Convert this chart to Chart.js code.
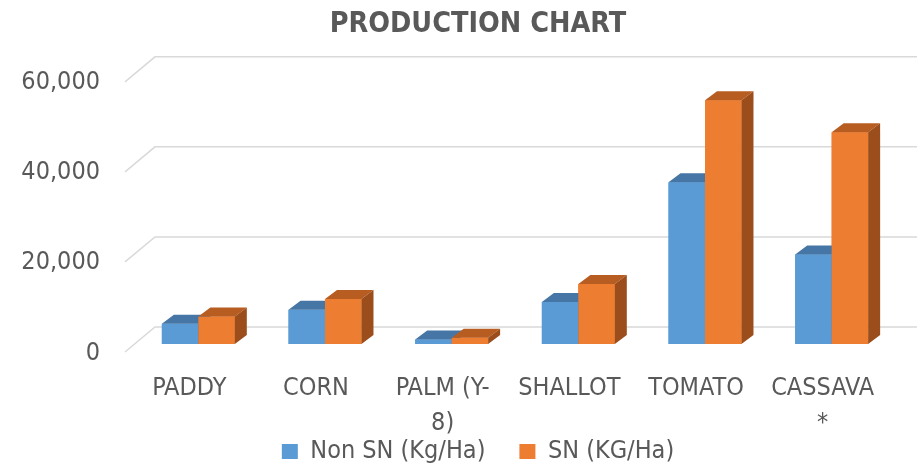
<!DOCTYPE html>
<html>
<head>
<meta charset="utf-8">
<script src="https://cdn.jsdelivr.net/npm/chart.js@4.4.1/dist/chart.umd.min.js"></script>
<style>
    html, body { margin: 0; padding: 0; background: #fff; }
</style>
</head>
<body>
<canvas id="chart" width="919" height="469"></canvas>
<script>
const categories = ["PADDY", "CORN", ["PALM (Y-", "8)"], "SHALLOT", "TOMATO", ["CASSAVA", "*"]];
const nonSnValues = [4500, 7600, 1000, 9300, 35900, 19900];
const snValues = [6100, 10000, 1400, 13300, 54100, 47000];
const yTicks = [0, 20000, 40000, 60000];

const TEXT_COLOR = "#595959";
const FONT = "'DejaVu Sans Condensed', 'Liberation Sans Narrow', sans-serif";
const Y_FONT_SIZE = 25;

// fake 3d: offsets of the top/side faces and of the back wall
const DEPTH_X = 12;
const DEPTH_Y = 9;

const faceColors = [
    { front: "#5b9bd5", top: "#4676a5", side: "#3e6a95" },
    { front: "#ed7d31", top: "#b85d22", side: "#9b4e1c" },
];

// tick labels are mirrored (so they are not clipped) and pushed back outside the plot
const measure = document.createElement("canvas").getContext("2d");
measure.font = Y_FONT_SIZE + "px " + FONT;
const widestTick = Math.max(...yTicks.map(v => measure.measureText(v.toLocaleString("en-US")).width));

const wallGrid = {
    id: "wallGrid",
    beforeDatasetsDraw(chart) {
        const { ctx, chartArea } = chart;
        const yScale = chart.scales.y;
        ctx.save();
        ctx.strokeStyle = "#d9d9d9";
        ctx.lineWidth = 1.5;
        ctx.beginPath();
        yTicks.forEach(v => {
            const py = yScale.getPixelForValue(v);
            ctx.moveTo(chartArea.left - 10, py + 8);
            ctx.lineTo(chartArea.left + 20, py - 17);
            ctx.lineTo(chartArea.right + 22, py - 17);
        });
        ctx.stroke();
        ctx.restore();
    }
};

const bar3d = {
    id: "bar3d",
    afterDatasetsDraw(chart) {
        const ctx = chart.ctx;
        ctx.save();
        chart.data.datasets.forEach((ds, i) => {
            const shade = faceColors[i];
            chart.getDatasetMeta(i).data.forEach(bar => {
                const { x, y, base, width } = bar.getProps(["x", "y", "base", "width"], true);
                const l = x - width / 2;
                const r = x + width / 2;

                ctx.fillStyle = shade.front;
                ctx.fillRect(l, y, width, base - y);

                ctx.fillStyle = shade.top;
                ctx.beginPath();
                ctx.moveTo(l, y);
                ctx.lineTo(l + DEPTH_X, y - DEPTH_Y);
                ctx.lineTo(r + DEPTH_X, y - DEPTH_Y);
                ctx.lineTo(r, y);
                ctx.closePath();
                ctx.fill();

                ctx.fillStyle = shade.side;
                ctx.beginPath();
                ctx.moveTo(r, y);
                ctx.lineTo(r + DEPTH_X, y - DEPTH_Y);
                ctx.lineTo(r + DEPTH_X, base - DEPTH_Y);
                ctx.lineTo(r, base);
                ctx.closePath();
                ctx.fill();
            });
        });
        ctx.restore();
    }
};

new Chart("chart", {
    type: "bar",
    data: {
        labels: categories,
        datasets: [
            {
                label: "Non SN (Kg/Ha)",
                data: nonSnValues,
                backgroundColor: faceColors[0].front,
            },
            {
                label: "SN (KG/Ha)",
                data: snValues,
                backgroundColor: faceColors[1].front,
            },
        ],
    },
    options: {
        responsive: false,
        animation: false,
        categoryPercentage: 0.576,
        barPercentage: 1.0,
        layout: {
            padding: { left: 61, right: 24, top: 0, bottom: 0 },
        },
        plugins: {
            title: {
                display: true,
                text: "PRODUCTION CHART",
                color: TEXT_COLOR,
                font: { family: FONT, size: 28.5, weight: "bold", lineHeight: 1.2 },
                padding: { top: 7.6, bottom: 32 },
            },
            legend: {
                position: "bottom",
                maxHeight: 64,
                labels: {
                    color: TEXT_COLOR,
                    font: { family: FONT, size: 25 },
                    boxWidth: 16,
                    boxHeight: 15,
                    padding: 34,
                },
            },
            tooltip: { enabled: false },
        },
        scales: {
            x: {
                grid: { display: false },
                border: { display: false },
                ticks: {
                    color: TEXT_COLOR,
                    font: { family: FONT, size: 25, lineHeight: 1.4 },
                    mirror: true,
                    padding: -62,
                    labelOffset: -9,
                    maxRotation: 0,
                    autoSkip: false,
                },
                afterFit: scale => { scale.height = 61; },
            },
            y: {
                min: 0,
                max: 60000,
                grid: { display: false },
                border: { display: false },
                ticks: {
                    stepSize: 20000,
                    color: TEXT_COLOR,
                    font: { family: FONT, size: Y_FONT_SIZE },
                    mirror: true,
                    crossAlign: "far",
                    padding: -(35 + widestTick),
                    labelOffset: 9,
                    callback: v => v.toLocaleString("en-US"),
                },
                afterFit: scale => { scale.width = 74; },
            },
        },
    },
    plugins: [wallGrid, bar3d],
});
</script>
</body>
</html>
